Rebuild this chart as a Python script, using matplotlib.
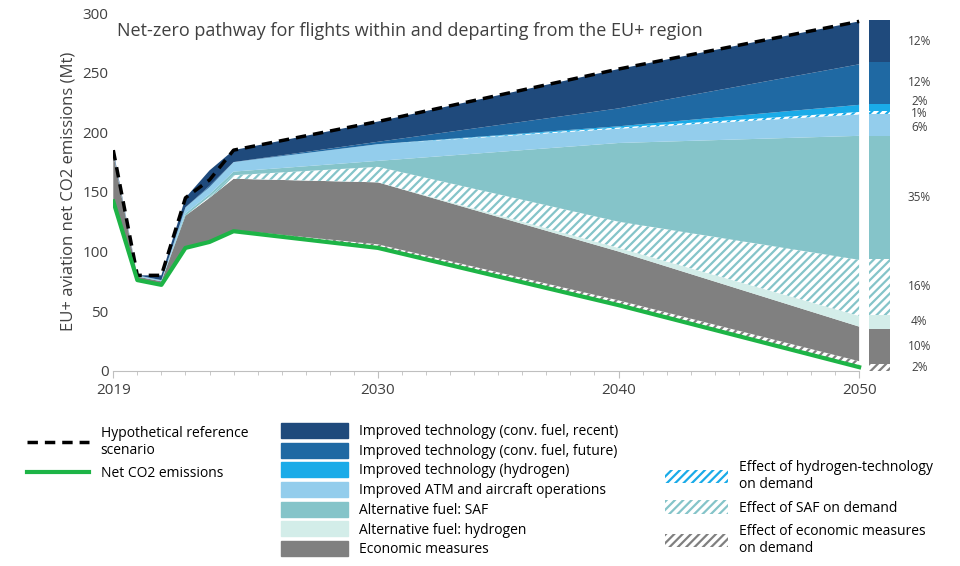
import matplotlib.pyplot as plt
import matplotlib.patches as mpatches
from matplotlib.lines import Line2D
import numpy as np

plt.rcParams['font.family'] = 'Open Sans'
plt.rcParams['hatch.linewidth'] = 1.6

years = [2019, 2020, 2021, 2022, 2023, 2024, 2030, 2040, 2050]
reference = [185, 80, 80, 145, 160, 185, 209, 253, 293]
net_co2 = [142, 76, 72, 103, 108, 117, 103, 55, 3]

# stacked wedges above net CO2 (Mt), bottom to top
econ_demand = [0, 0, 0, 0, 0, 1, 3, 4, 5]
econ = [40, 3, 3, 27, 37, 43, 52, 41, 29]
alt_h2 = [0, 0, 0, 0, 0, 0, 0, 3, 9]
saf_demand = [0, 0, 0, 0, 1, 3, 13, 22, 47]
saf = [0, 0, 0, 2, 2, 3, 5, 66, 104]
atm = [1, 1, 1, 5, 6, 8, 14, 12, 18]
h2_demand = [0, 0, 0, 0, 0, 0, 0, 1, 2]
h2_tech = [0, 0, 0, 0, 0, 0, 0, 1, 6]
future = [0, 0, 0, 0, 1, 0, 2, 15, 34]
recent = [2, 0, 4, 8, 13, 10, 17, 33, 36]

# 2050 bar (Mt) and its share labels
bar_vals = [6, 29, 12, 47, 103, 18, 3, 6, 35, 35]
bar_pct = ['2%', '10%', '4%', '16%', '35%', '6%', '1%', '2%', '12%', '12%']
# small nudges so the crowded labels don't collide
label_nudge = [0, 0, 0, 0, 0, -2, -1, 5, 0, 0]

c_recent = '#1f4a7c'
c_future = '#1f69a3'
c_h2 = '#1aabe8'
c_atm = '#93cdec'
c_saf = '#85c4c9'
c_alt_h2 = '#d3ede9'
c_econ = '#808080'

layers = [
    (econ_demand, 'white', c_econ, '////'),
    (econ, c_econ, None, None),
    (alt_h2, c_alt_h2, None, None),
    (saf_demand, 'white', c_saf, '////'),
    (saf, c_saf, None, None),
    (atm, c_atm, None, None),
    (h2_demand, 'white', c_h2, '////'),
    (h2_tech, c_h2, None, None),
    (future, c_future, None, None),
    (recent, c_recent, None, None),
]

fig = plt.figure(figsize=(9.6, 5.66), dpi=100)
ax = fig.add_axes([0.118, 0.345, 0.812, 0.632])

base = np.array(net_co2, dtype=float)
for vals, fc, ec, hatch in layers:
    top = base + np.array(vals)
    if hatch:
        ax.fill_between(years, base, top, facecolor=fc, edgecolor=ec, hatch=hatch, linewidth=0)
    else:
        ax.fill_between(years, base, top, facecolor=fc, linewidth=0)
    base = top

ax.plot(years, reference, color='black', lw=2.5, ls=(0, (3, 2)))
ax.plot(years, net_co2, color='#1db446', lw=3)

# 2050 bar
bx = 2050.85
bottom = 0
for v, (vals, fc, ec, hatch), pct, dy in zip(bar_vals, layers, bar_pct, label_nudge):
    if hatch:
        ax.bar(bx, v, 0.9, bottom=bottom, facecolor=fc, edgecolor=ec, hatch=hatch, linewidth=0)
    else:
        ax.bar(bx, v, 0.9, bottom=bottom, color=fc, linewidth=0)
    ax.text(2052.5, bottom + v / 2 + dy, pct, ha='center', va='center', fontsize=8.5,
            color='#404040', clip_on=False)
    bottom += v

ax.set_xlim(2019, 2051.4)
ax.set_ylim(0, 300)
ax.set_xticks([2019, 2030, 2040, 2050])
ax.set_xticks(range(2019, 2051), minor=True)
ax.set_yticks(range(0, 301, 50))
ax.tick_params(axis='y', length=0, labelsize=11, colors='#404040')
ax.tick_params(axis='x', labelsize=11, colors='#404040', length=5, color='#bfbfbf')
ax.tick_params(axis='x', which='minor', length=3, color='#bfbfbf')
for s in ['top', 'right', 'left']:
    ax.spines[s].set_visible(False)
ax.spines['bottom'].set_color('#bfbfbf')
ax.spines['bottom'].set_bounds(2019, 2050)
ax.set_ylabel('EU+ aviation net CO2 emissions (Mt)', fontsize=12, color='#404040')
ax.text(0.005, 0.975, 'Net-zero pathway for flights within and departing from the EU+ region',
        transform=ax.transAxes, fontsize=13, color='#404040', va='top')

h1 = [Line2D([0], [0], color='black', lw=2.5, ls=(0, (3, 2))),
      Line2D([0], [0], color='#1db446', lw=3)]
fig.legend(h1, ['Hypothetical reference\nscenario', 'Net CO2 emissions'],
           loc='upper left', bbox_to_anchor=(0.015, 0.27), frameon=False,
           fontsize=10, handlelength=4.5, labelspacing=0.6)

h2 = [mpatches.Patch(color=c) for c in [c_recent, c_future, c_h2, c_atm, c_saf, c_alt_h2, c_econ]]
l2 = ['Improved technology (conv. fuel, recent)', 'Improved technology (conv. fuel, future)',
      'Improved technology (hydrogen)', 'Improved ATM and aircraft operations',
      'Alternative fuel: SAF', 'Alternative fuel: hydrogen', 'Economic measures']
fig.legend(h2, l2, loc='upper left', bbox_to_anchor=(0.28, 0.275), frameon=False,
           fontsize=10, handlelength=4.8, handleheight=1.3, labelspacing=0.25)

h3 = [mpatches.Patch(facecolor='white', edgecolor=c, hatch='////', lw=0) for c in [c_h2, c_saf, c_econ]]
l3 = ['Effect of hydrogen-technology\non demand', 'Effect of SAF on demand',
      'Effect of economic measures\non demand']
fig.legend(h3, l3, loc='upper left', bbox_to_anchor=(0.68, 0.21), frameon=False,
           fontsize=10, handlelength=4.5, handleheight=1.1, labelspacing=0.6)

fig.savefig('out.png', dpi=100)
